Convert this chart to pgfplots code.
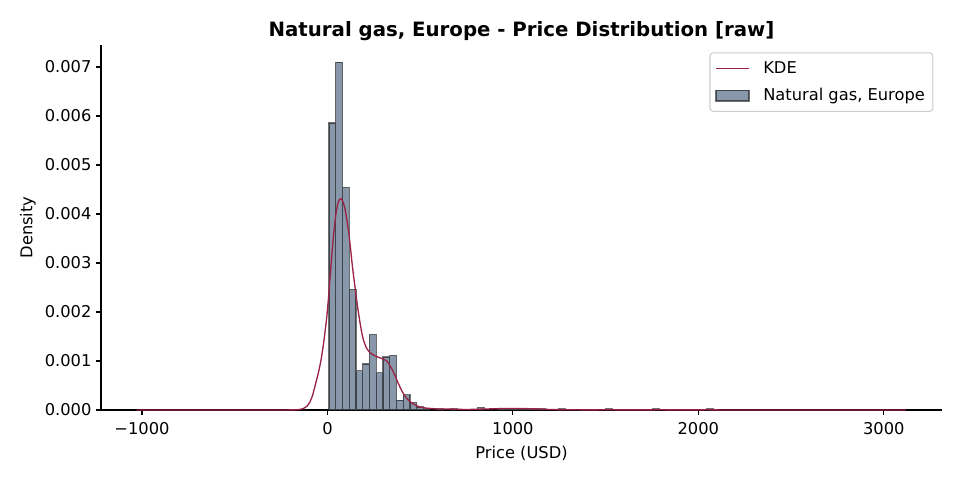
\documentclass[border=0pt]{standalone}
\usepackage{fontspec}
\setmainfont{DejaVu Sans}
\usepackage{pgfplots}
\pgfplotsset{compat=1.18}
\definecolor{kdecol}{RGB}{155,35,70}
\definecolor{histfill}{RGB}{136,152,170}
\definecolor{legframe}{RGB}{204,204,204}
\pgfplotsset{
  linelegend/.style={legend image code/.code={\draw[##1] (0pt,0pt) -- (24.75pt,0pt);}},
  patchlegend/.style={legend image code/.code={\draw[sharp corners, ##1] (0pt,-4.1pt) rectangle (24.75pt,4.1pt);}},
}
\begin{document}
\begin{tikzpicture}
\useasboundingbox (0,0) rectangle (720pt,360pt);
\begin{axis}[
  at={(75.75pt,52.5pt)}, anchor=south west,
  width=630.75pt, height=273.75pt, scale only axis,
  xmin=-1221, xmax=3314, ymin=0, ymax=0.00745,
  axis x line*=bottom, axis y line*=left,
  axis line style={line width=0.83pt, -},
  xtick={-1000,0,1000,2000,3000},
  xticklabels={−1000,0,1000,2000,3000},
  ytick={0,0.001,0.002,0.003,0.004,0.005,0.006,0.007},
  scaled y ticks=false,
  yticklabel style={/pgf/number format/.cd, fixed, fixed zerofill, precision=3, assume math mode=true},
  ticklabel style={font=\fontsize{12.2}{14}\selectfont},
  xticklabel style={yshift=-2.5pt},
  tick align=outside, major tick length=3.65pt,
  tick style={black, line width=0.83pt},
  xlabel={Price (USD)}, ylabel={Density},
  label style={font=\fontsize{12.2}{14}\selectfont},
  xlabel style={yshift=-1pt},
  title={Natural gas, Europe - Price Distribution [raw]},
  title style={font=\fontsize{14.8}{17}\selectfont\bfseries, at={(0.5,1)}, anchor=base, yshift=0.6pt},
  legend cell align=left,
  legend style={at={(1,1)}, anchor=north east, xshift=-6.5pt, yshift=-5.5pt,
    draw=legframe, rounded corners=2.5pt, line width=0.8pt,
    font=\fontsize{12.2}{14}\selectfont, row sep=5.75pt, column sep=8.25pt,
    inner xsep=4pt, inner ysep=4.5pt},
]
\addlegendimage{kdecol, line width=1pt, linelegend}
\addlegendentry{KDE}
\addlegendimage{fill=histfill, draw=black, draw opacity=0.55, line width=0.9pt, patchlegend}
\addlegendentry{Natural gas, Europe}

\addplot[ybar, bar width=36.4, bar shift=0pt, fill=histfill, draw=black, draw opacity=0.55, line width=0.9pt, forget plot]
coordinates {
(26.2,0.00586) (62.6,0.00710) (99.0,0.00454) (135.4,0.00246) (171.8,0.00080)
(208.2,0.00094) (244.6,0.00154) (281.0,0.00076) (317.4,0.00108) (353.8,0.00111)
(390.2,0.00020) (426.6,0.00031) (463.0,0.00015) (499.4,0.00006) (535.8,0.00002)
(608.6,0.00002) (681.4,0.00002) (827.0,0.00005)
(936.2,0.00002) (972.6,0.00003) (1009.0,0.00002) (1045.4,0.00002) (1081.8,0.00003)
(1118.2,0.00002) (1154.6,0.00002)
(1263.8,0.00002) (1518.6,0.00002) (1773.4,0.00002) (2064.6,0.00002)
};

\addplot[kdecol, line width=1pt, smooth, tension=0.3, forget plot]
coordinates {
(-1029,0) (-400,0) (-250,0.000001) (-200,0.000002) (-170,0.000004) (-150,0.000012)
(-130,0.00003) (-110,0.00008) (-95,0.00016) (-80,0.0003) (-65,0.00052) (-50,0.00074)
(-35,0.00101) (-20,0.00138) (-5,0.00185) (5,0.00225) (15,0.00275) (25,0.00322)
(35,0.00365) (45,0.00398) (55,0.0042) (65,0.0043) (75,0.00431) (85,0.00424)
(95,0.0041) (105,0.00388) (115,0.00362) (125,0.00328) (135,0.00292) (145,0.00262)
(155,0.00232) (165,0.00204) (175,0.0018) (185,0.00158) (195,0.00142) (210,0.00127)
(225,0.00119) (240,0.00114) (260,0.0011) (280,0.00107) (300,0.00104) (320,0.001)
(335,0.00092) (350,0.00082) (365,0.0007) (380,0.00056) (395,0.00044) (410,0.00033)
(425,0.00025) (440,0.00019) (460,0.00013) (480,0.00009) (500,0.00006) (530,0.00004)
(560,0.00003) (600,0.00002) (650,0.00002) (700,0.000015) (750,0.00001) (800,0.000015)
(850,0.00002) (900,0.000025) (950,0.00003) (1000,0.00003) (1050,0.00003) (1100,0.000025)
(1150,0.00002) (1200,0.00001) (1250,0.000008) (1300,0.000005) (1400,0.000003)
(1500,0.000004) (1600,0.000003) (1700,0.000003) (1800,0.000004) (1900,0.000002)
(2000,0.000002) (2050,0.000004) (2100,0.000002) (2300,0) (3120,0)
};
\end{axis}
\end{tikzpicture}
\end{document}
